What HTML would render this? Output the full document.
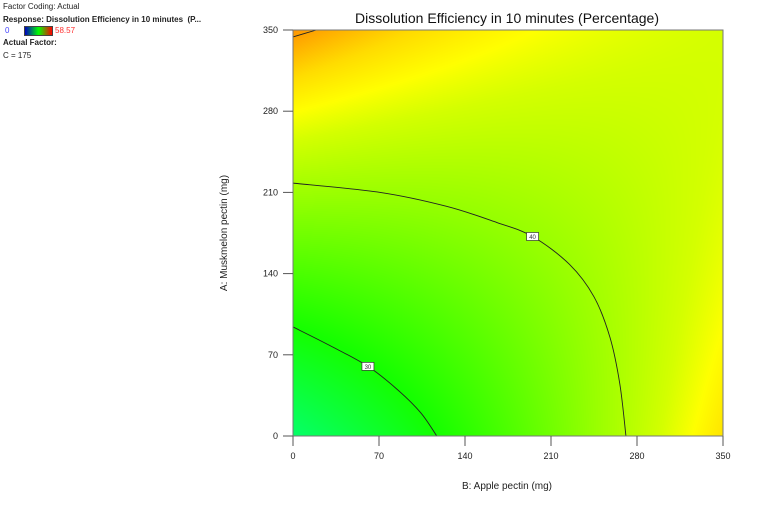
<!DOCTYPE html>
<html><head><meta charset="utf-8"><style>
body{margin:0;width:760px;height:505px;background:#fff;font-family:"Liberation Sans",sans-serif;position:relative;overflow:hidden}
.t{position:absolute;font-size:8px;color:#222;white-space:nowrap}
</style></head><body>
<div class="t" style="left:3px;top:2px">Factor Coding: Actual</div>
<div class="t" style="left:3px;top:15px;font-weight:bold">Response: Dissolution Efficiency in 10 minutes &nbsp;(P...</div>
<div class="t" style="left:5px;top:26px;color:#4444ff">0</div>
<div style="position:absolute;left:24px;top:26px;width:27px;height:8px;border:1px solid #444;background:linear-gradient(90deg,#0000c0,#00ff00,#ff0000)"></div>
<div class="t" style="left:55px;top:26px;color:#ff3030">58.57</div>
<div class="t" style="left:3px;top:38px;font-weight:bold">Actual Factor:</div>
<div class="t" style="left:3px;top:51px">C = 175</div>
<svg id="s" width="760" height="505" style="position:absolute;left:0;top:0">
<foreignObject x="293" y="30" width="430" height="406"><canvas id="c" width="430" height="406" xmlns="http://www.w3.org/1999/xhtml"></canvas></foreignObject>
<g id="g"></g>
<text x="507" y="23" text-anchor="middle" font-size="14" fill="#111">Dissolution Efficiency in 10 minutes  (Percentage)</text>
<text x="507" y="489" text-anchor="middle" font-size="10" fill="#222">B: Apple pectin (mg)</text>
<text transform="translate(227,233) rotate(-90)" text-anchor="middle" font-size="10" fill="#222">A: Muskmelon pectin (mg)</text>
</svg>
<script>
const xTicks=[0,70,140,210,280,350];
const yTicks=[0,70,140,210,280,350];
// contour lines as (B, A) pairs
const contour30B=[0,30,61,85,104,117];
const contour30A=[94,78,60,40,20,0];
const contour40B=[0,71,125,166,195,225,245,258,266,271];
const contour40A=[218,210,198,184,172,148,120,85,45,0];
const contour50B=[0,19];
const contour50A=[344,350];
const labelText=['30','40'];
const labelB=[61,195];
const labelA=[60,172];
// surface model coefficients (a=A/350, b=B/350): c0, a, b, ab, a^2, b^2
const coef=[24,21.3,15.9,-30,4.7,6.1];
const X0=293,X1=723,Y0=436,Y1=30;
const sx=v=>X0+(v/350)*(X1-X0), sy=v=>Y0-(v/350)*(Y0-Y1);
function z(A,B){const a=A/350,b=B/350;return coef[0]+coef[1]*a+coef[2]*b+coef[3]*a*b+coef[4]*a*a+coef[5]*b*b;}
const cs=[[22,[0,255,140]],[30,[20,255,0]],[38,[150,255,0]],[42,[212,255,0]],[44,[255,255,0]],[46.5,[255,220,0]],[50,[255,150,0]],[53,[255,110,0]]];
function col(v){if(v<=cs[0][0])return cs[0][1];for(let i=1;i<cs.length;i++){if(v<=cs[i][0]){const t=(v-cs[i-1][0])/(cs[i][0]-cs[i-1][0]);return cs[i-1][1].map((c,k)=>c+(cs[i][1][k]-c)*t);}}return cs[cs.length-1][1];}
const cv=document.getElementById('c'),ctx=cv.getContext('2d'),W=430,H=406,img=ctx.createImageData(W,H);
for(let y=0;y<H;y++)for(let x=0;x<W;x++){const B=x/W*350,A=(H-y)/H*350,c=col(z(A,B)),i=(y*W+x)*4;img.data[i]=c[0];img.data[i+1]=c[1];img.data[i+2]=c[2];img.data[i+3]=255;}
ctx.putImageData(img,0,0);
const g=document.getElementById('g'),NS='http://www.w3.org/2000/svg';
function el(t,a){const e=document.createElementNS(NS,t);for(const k in a)e.setAttribute(k,a[k]);g.appendChild(e);return e;}
function smoothPath(B,A){const p=B.map((b,i)=>[sx(b),sy(A[i])]);let d='M'+p[0][0]+','+p[0][1];
 for(let i=0;i<p.length-1;i++){const p0=p[i-1]||p[i],p1=p[i],p2=p[i+1],p3=p[i+2]||p2;
  const c1=[p1[0]+(p2[0]-p0[0])/6,p1[1]+(p2[1]-p0[1])/6],c2=[p2[0]-(p3[0]-p1[0])/6,p2[1]-(p3[1]-p1[1])/6];
  d+=' C'+c1.join(',')+' '+c2.join(',')+' '+p2.join(',');}return d;}
[[contour30B,contour30A,'30'],[contour40B,contour40A,'40'],[contour50B,contour50A,'50']].forEach(c=>{
 const p=el('path',{d:smoothPath(c[0],c[1]),fill:'none',stroke:'#222','stroke-width':0.9});
 
 
});
labelText.forEach((L,i)=>{const x=sx(labelB[i]),y=sy(labelA[i]);
 const r=el('rect',{x:x-6,y:y-4,width:12,height:8,fill:'#fff',stroke:'#333','stroke-width':0.7});
 
 
 const t=el('text',{x:x,y:y+2.5,'text-anchor':'middle','font-size':6,fill:'#333'});t.textContent=L;
 
 
});
const fr=el('rect',{x:X0,y:Y1,width:X1-X0,height:Y0-Y1,fill:'none',stroke:'#777','stroke-width':1});


xTicks.forEach(v=>{const x=sx(v);el('line',{x1:x,x2:x,y1:Y0,y2:Y0+10,stroke:'#555'});
 const t=el('text',{x:x,y:Y0+23,'text-anchor':'middle','font-size':9,fill:'#222'});t.textContent=v;
 
 });
yTicks.forEach(v=>{const y=sy(v);el('line',{x1:X0-10,x2:X0,y1:y,y2:y,stroke:'#555'});
 const t=el('text',{x:X0-15,y:y+3,'text-anchor':'end','font-size':9,fill:'#222'});t.textContent=v;
 
 });
</script>
</body></html>
